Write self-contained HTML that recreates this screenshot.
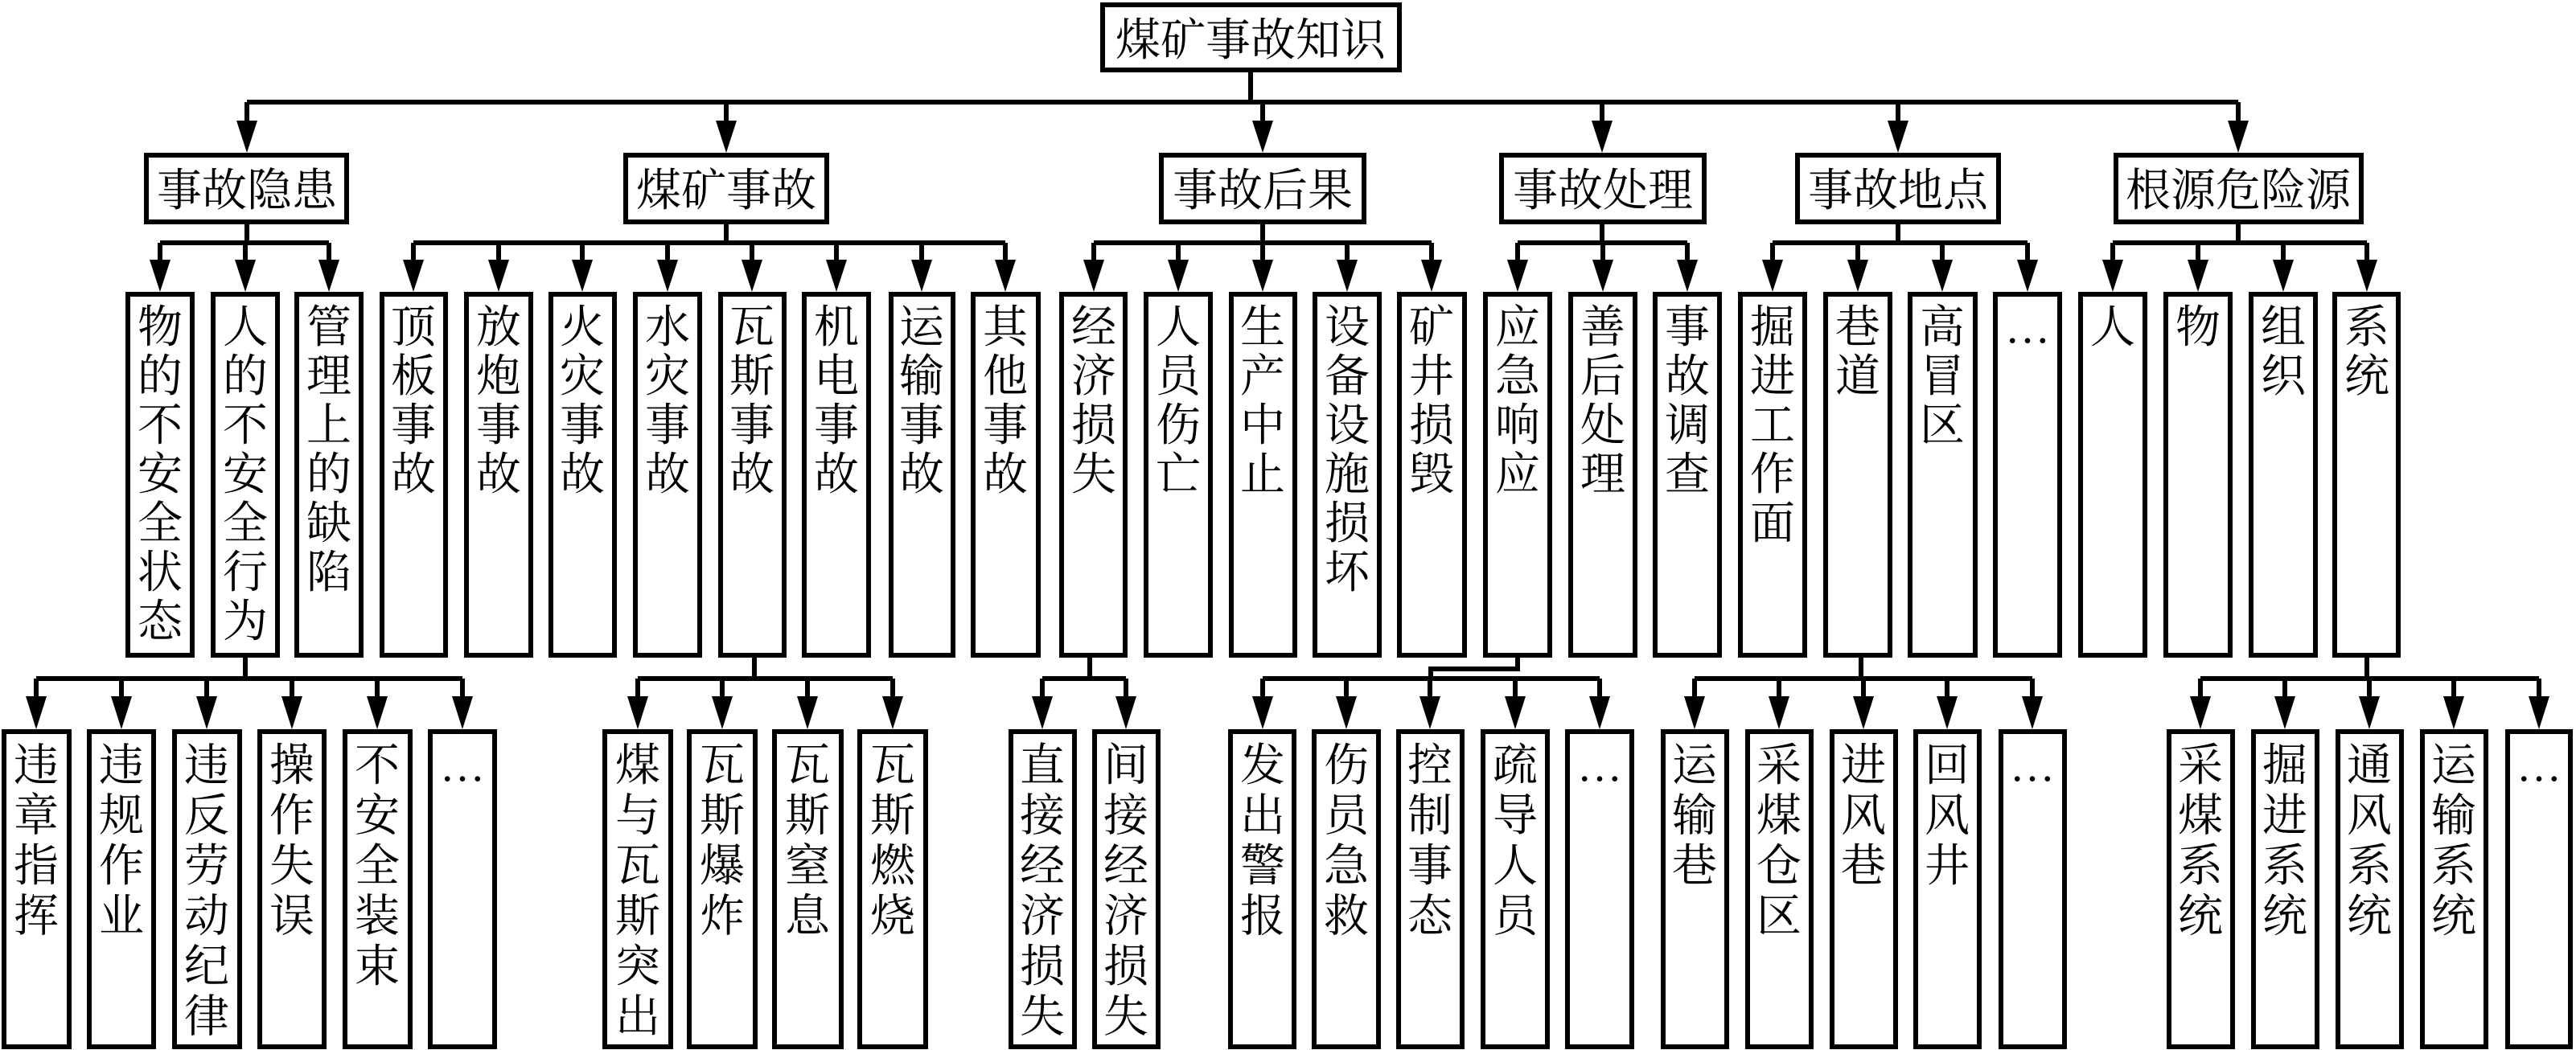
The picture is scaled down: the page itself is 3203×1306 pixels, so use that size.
<!DOCTYPE html>
<html><head><meta charset="utf-8"><style>
html,body{margin:0;padding:0;background:#fff}
svg{display:block}
text{font-family:"Liberation Serif","Noto Serif CJK SC",serif;font-size:56px;fill:#000;text-anchor:middle}
</style></head><body>
<svg width="3203" height="1306" viewBox="0 0 3203 1306" xmlns="http://www.w3.org/2000/svg">
<g fill="none" stroke="#000" stroke-width="6">
<!-- root -->
<rect x="1371" y="6" width="369" height="81"/>
<line x1="1555" y1="87" x2="1555" y2="127"/>
<line x1="307" y1="127" x2="2783" y2="127"/>
<line x1="307" y1="127" x2="307" y2="152"/><line x1="903" y1="127" x2="903" y2="152"/><line x1="1570" y1="127" x2="1570" y2="152"/><line x1="1992" y1="127" x2="1992" y2="152"/><line x1="2360" y1="127" x2="2360" y2="152"/><line x1="2783" y1="127" x2="2783" y2="152"/>
<!-- level1 boxes -->
<rect x="182" y="193" width="249" height="83"/>
<rect x="778" y="193" width="250" height="83"/>
<rect x="1444" y="193" width="252" height="83"/>
<rect x="1867" y="193" width="252" height="83"/>
<rect x="2235" y="193" width="250" height="83"/>
<rect x="2631" y="193" width="305" height="83"/>
<!-- level1 stems and branch lines -->
<line x1="307" y1="276" x2="307" y2="302"/><line x1="199" y1="302" x2="409" y2="302"/>
<line x1="903" y1="276" x2="903" y2="302"/><line x1="514" y1="302" x2="1250" y2="302"/>
<line x1="1570" y1="276" x2="1570" y2="302"/><line x1="1360" y1="302" x2="1780" y2="302"/>
<line x1="1992" y1="276" x2="1992" y2="302"/><line x1="1887" y1="302" x2="2098" y2="302"/>
<line x1="2360" y1="276" x2="2360" y2="302"/><line x1="2204" y1="302" x2="2521" y2="302"/>
<line x1="2783" y1="276" x2="2783" y2="302"/><line x1="2627" y1="302" x2="2943" y2="302"/>
<!-- level2 drops -->
<path d="M199 302V325M305 302V325M409 302V325M514 302V325M620 302V325M724 302V325M830 302V325M935 302V325M1040 302V325M1146 302V325M1250 302V325M1360 302V325M1465 302V325M1570 302V325M1675 302V325M1780 302V325M1887 302V325M1993 302V325M2098 302V325M2204 302V325M2310 302V325M2415 302V325M2521 302V325M2627 302V325M2733 302V325M2839 302V325M2943 302V325"/>
<!-- level2 boxes -->
<rect x="159" y="366" width="80" height="449"/><rect x="265" y="366" width="80" height="449"/><rect x="369" y="366" width="80" height="449"/>
<rect x="475" y="366" width="79" height="449"/><rect x="580" y="366" width="80" height="449"/><rect x="685" y="366" width="79" height="449"/><rect x="790" y="366" width="80" height="449"/><rect x="896" y="366" width="79" height="449"/><rect x="1000" y="366" width="80" height="449"/><rect x="1108" y="366" width="77" height="449"/><rect x="1210" y="366" width="81" height="449"/>
<rect x="1320" y="366" width="79" height="449"/><rect x="1425" y="366" width="80" height="449"/><rect x="1531" y="366" width="79" height="449"/><rect x="1635" y="366" width="80" height="449"/><rect x="1740" y="366" width="81" height="449"/>
<rect x="1847" y="366" width="80" height="449"/><rect x="1953" y="366" width="80" height="449"/><rect x="2058" y="366" width="80" height="449"/>
<rect x="2164" y="366" width="80" height="449"/><rect x="2270" y="366" width="80" height="449"/><rect x="2375" y="366" width="81" height="449"/><rect x="2481" y="366" width="80" height="449"/>
<rect x="2587" y="366" width="80" height="449"/><rect x="2693" y="366" width="80" height="449"/><rect x="2799" y="366" width="80" height="449"/><rect x="2903" y="366" width="79" height="449"/>
<!-- level3 connectors -->
<line x1="305" y1="815" x2="305" y2="844"/><line x1="45" y1="844" x2="575" y2="844"/>
<line x1="938" y1="815" x2="938" y2="844"/><line x1="793" y1="844" x2="1110" y2="844"/>
<line x1="1355" y1="815" x2="1355" y2="844"/><line x1="1296" y1="844" x2="1400" y2="844"/>
<path d="M1887 815V832H1779V844"/><line x1="1570" y1="844" x2="1989" y2="844"/>
<line x1="2314" y1="815" x2="2314" y2="844"/><line x1="2107" y1="844" x2="2527" y2="844"/>
<line x1="2943" y1="815" x2="2943" y2="844"/><line x1="2736" y1="844" x2="3157" y2="844"/>
<path d="M45 844V870M151 844V870M257 844V870M363 844V870M469 844V870M575 844V870M793 844V870M898 844V870M1004 844V870M1110 844V870M1296 844V870M1400 844V870M1570 844V870M1674 844V870M1778 844V870M1884 844V870M1989 844V870M2107 844V870M2212 844V870M2317 844V870M2421 844V870M2527 844V870M2736 844V870M2841 844V870M2946 844V870M3051 844V870M3157 844V870"/>
<!-- leaf boxes -->
<rect x="5" y="910" width="81" height="392"/><rect x="111" y="910" width="80" height="392"/><rect x="217" y="910" width="81" height="392"/><rect x="323" y="910" width="80" height="392"/><rect x="429" y="910" width="81" height="392"/><rect x="535" y="910" width="80" height="392"/>
<rect x="752" y="910" width="82" height="392"/><rect x="857" y="910" width="82" height="392"/><rect x="963" y="910" width="83" height="392"/><rect x="1069" y="910" width="82" height="392"/>
<rect x="1257" y="910" width="79" height="392"/><rect x="1361" y="910" width="79" height="392"/>
<rect x="1530" y="910" width="79" height="392"/><rect x="1634" y="910" width="80" height="392"/><rect x="1739" y="910" width="79" height="392"/><rect x="1844" y="910" width="80" height="392"/><rect x="1949" y="910" width="80" height="392"/>
<rect x="2068" y="910" width="79" height="392"/><rect x="2173" y="910" width="79" height="392"/><rect x="2278" y="910" width="79" height="392"/><rect x="2382" y="910" width="79" height="392"/><rect x="2488" y="910" width="79" height="392"/>
<rect x="2697" y="910" width="79" height="392"/><rect x="2802" y="910" width="79" height="392"/><rect x="2907" y="910" width="79" height="392"/><rect x="3012" y="910" width="79" height="392"/><rect x="3118" y="910" width="78" height="392"/>
</g>
<!-- arrowheads -->
<g fill="#000">
<path d="M294 150H320L307 190ZM890 150H916L903 190ZM1557 150H1583L1570 190ZM1979 150H2005L1992 190ZM2347 150H2373L2360 190ZM2770 150H2796L2783 190Z"/>
<path d="M186 323H212L199 363ZM292 323H318L305 363ZM396 323H422L409 363ZM501 323H527L514 363ZM607 323H633L620 363ZM711 323H737L724 363ZM817 323H843L830 363ZM922 323H948L935 363ZM1027 323H1053L1040 363ZM1133 323H1159L1146 363ZM1237 323H1263L1250 363ZM1347 323H1373L1360 363ZM1452 323H1478L1465 363ZM1557 323H1583L1570 363ZM1662 323H1688L1675 363ZM1767 323H1793L1780 363ZM1874 323H1900L1887 363ZM1980 323H2006L1993 363ZM2085 323H2111L2098 363ZM2191 323H2217L2204 363ZM2297 323H2323L2310 363ZM2402 323H2428L2415 363ZM2508 323H2534L2521 363ZM2614 323H2640L2627 363ZM2720 323H2746L2733 363ZM2826 323H2852L2839 363ZM2930 323H2956L2943 363Z"/>
<path d="M32 866H58L45 907ZM138 866H164L151 907ZM244 866H270L257 907ZM350 866H376L363 907ZM456 866H482L469 907ZM562 866H588L575 907ZM780 866H806L793 907ZM885 866H911L898 907ZM991 866H1017L1004 907ZM1097 866H1123L1110 907ZM1283 866H1309L1296 907ZM1387 866H1413L1400 907ZM1557 866H1583L1570 907ZM1661 866H1687L1674 907ZM1765 866H1791L1778 907ZM1871 866H1897L1884 907ZM1976 866H2002L1989 907ZM2094 866H2120L2107 907ZM2199 866H2225L2212 907ZM2304 866H2330L2317 907ZM2408 866H2434L2421 907ZM2514 866H2540L2527 907ZM2723 866H2749L2736 907ZM2828 866H2854L2841 907ZM2933 866H2959L2946 907ZM3038 866H3064L3051 907ZM3144 866H3170L3157 907Z"/>
</g>
<!-- text: root & level1 -->
<text x="1555" y="69">煤矿事故知识</text>
<text x="307" y="256">事故隐患</text>
<text x="903" y="256">煤矿事故</text>
<text x="1570" y="256">事故后果</text>
<text x="1993" y="256">事故处理</text>
<text x="2360" y="256">事故地点</text>
<text x="2783" y="256">根源危险源</text>
<!-- level2 text -->
<text y="426"><tspan x="199">物</tspan><tspan x="199" dy="61">的</tspan><tspan x="199" dy="61">不</tspan><tspan x="199" dy="61">安</tspan><tspan x="199" dy="61">全</tspan><tspan x="199" dy="61">状</tspan><tspan x="199" dy="61">态</tspan></text>
<text y="426"><tspan x="305">人</tspan><tspan x="305" dy="61">的</tspan><tspan x="305" dy="61">不</tspan><tspan x="305" dy="61">安</tspan><tspan x="305" dy="61">全</tspan><tspan x="305" dy="61">行</tspan><tspan x="305" dy="61">为</tspan></text>
<text y="426"><tspan x="409">管</tspan><tspan x="409" dy="61">理</tspan><tspan x="409" dy="61">上</tspan><tspan x="409" dy="61">的</tspan><tspan x="409" dy="61">缺</tspan><tspan x="409" dy="61">陷</tspan></text>
<text y="426"><tspan x="514">顶</tspan><tspan x="514" dy="61">板</tspan><tspan x="514" dy="61">事</tspan><tspan x="514" dy="61">故</tspan></text>
<text y="426"><tspan x="620">放</tspan><tspan x="620" dy="61">炮</tspan><tspan x="620" dy="61">事</tspan><tspan x="620" dy="61">故</tspan></text>
<text y="426"><tspan x="724">火</tspan><tspan x="724" dy="61">灾</tspan><tspan x="724" dy="61">事</tspan><tspan x="724" dy="61">故</tspan></text>
<text y="426"><tspan x="830">水</tspan><tspan x="830" dy="61">灾</tspan><tspan x="830" dy="61">事</tspan><tspan x="830" dy="61">故</tspan></text>
<text y="426"><tspan x="935">瓦</tspan><tspan x="935" dy="61">斯</tspan><tspan x="935" dy="61">事</tspan><tspan x="935" dy="61">故</tspan></text>
<text y="426"><tspan x="1040">机</tspan><tspan x="1040" dy="61">电</tspan><tspan x="1040" dy="61">事</tspan><tspan x="1040" dy="61">故</tspan></text>
<text y="426"><tspan x="1146">运</tspan><tspan x="1146" dy="61">输</tspan><tspan x="1146" dy="61">事</tspan><tspan x="1146" dy="61">故</tspan></text>
<text y="426"><tspan x="1250">其</tspan><tspan x="1250" dy="61">他</tspan><tspan x="1250" dy="61">事</tspan><tspan x="1250" dy="61">故</tspan></text>
<text y="426"><tspan x="1360">经</tspan><tspan x="1360" dy="61">济</tspan><tspan x="1360" dy="61">损</tspan><tspan x="1360" dy="61">失</tspan></text>
<text y="426"><tspan x="1465">人</tspan><tspan x="1465" dy="61">员</tspan><tspan x="1465" dy="61">伤</tspan><tspan x="1465" dy="61">亡</tspan></text>
<text y="426"><tspan x="1570">生</tspan><tspan x="1570" dy="61">产</tspan><tspan x="1570" dy="61">中</tspan><tspan x="1570" dy="61">止</tspan></text>
<text y="426"><tspan x="1675">设</tspan><tspan x="1675" dy="61">备</tspan><tspan x="1675" dy="61">设</tspan><tspan x="1675" dy="61">施</tspan><tspan x="1675" dy="61">损</tspan><tspan x="1675" dy="61">坏</tspan></text>
<text y="426"><tspan x="1780">矿</tspan><tspan x="1780" dy="61">井</tspan><tspan x="1780" dy="61">损</tspan><tspan x="1780" dy="61">毁</tspan></text>
<text y="426"><tspan x="1887">应</tspan><tspan x="1887" dy="61">急</tspan><tspan x="1887" dy="61">响</tspan><tspan x="1887" dy="61">应</tspan></text>
<text y="426"><tspan x="1993">善</tspan><tspan x="1993" dy="61">后</tspan><tspan x="1993" dy="61">处</tspan><tspan x="1993" dy="61">理</tspan></text>
<text y="426"><tspan x="2098">事</tspan><tspan x="2098" dy="61">故</tspan><tspan x="2098" dy="61">调</tspan><tspan x="2098" dy="61">查</tspan></text>
<text y="426"><tspan x="2204">掘</tspan><tspan x="2204" dy="61">进</tspan><tspan x="2204" dy="61">工</tspan><tspan x="2204" dy="61">作</tspan><tspan x="2204" dy="61">面</tspan></text>
<text y="426"><tspan x="2310">巷</tspan><tspan x="2310" dy="61">道</tspan></text>
<text y="426"><tspan x="2415">高</tspan><tspan x="2415" dy="61">冒</tspan><tspan x="2415" dy="61">区</tspan></text>
<text x="2521" y="426">…</text>
<text x="2627" y="426">人</text>
<text x="2733" y="426">物</text>
<text y="426"><tspan x="2839">组</tspan><tspan x="2839" dy="61">织</tspan></text>
<text y="426"><tspan x="2943">系</tspan><tspan x="2943" dy="61">统</tspan></text>
<!-- leaf text -->
<text y="971"><tspan x="45">违</tspan><tspan x="45" dy="62.5">章</tspan><tspan x="45" dy="62.5">指</tspan><tspan x="45" dy="62.5">挥</tspan></text>
<text y="971"><tspan x="151">违</tspan><tspan x="151" dy="62.5">规</tspan><tspan x="151" dy="62.5">作</tspan><tspan x="151" dy="62.5">业</tspan></text>
<text y="971"><tspan x="257">违</tspan><tspan x="257" dy="62.5">反</tspan><tspan x="257" dy="62.5">劳</tspan><tspan x="257" dy="62.5">动</tspan><tspan x="257" dy="62.5">纪</tspan><tspan x="257" dy="62.5">律</tspan></text>
<text y="971"><tspan x="363">操</tspan><tspan x="363" dy="62.5">作</tspan><tspan x="363" dy="62.5">失</tspan><tspan x="363" dy="62.5">误</tspan></text>
<text y="971"><tspan x="469">不</tspan><tspan x="469" dy="62.5">安</tspan><tspan x="469" dy="62.5">全</tspan><tspan x="469" dy="62.5">装</tspan><tspan x="469" dy="62.5">束</tspan></text>
<text x="575" y="971">…</text>
<text y="971"><tspan x="793">煤</tspan><tspan x="793" dy="62.5">与</tspan><tspan x="793" dy="62.5">瓦</tspan><tspan x="793" dy="62.5">斯</tspan><tspan x="793" dy="62.5">突</tspan><tspan x="793" dy="62.5">出</tspan></text>
<text y="971"><tspan x="898">瓦</tspan><tspan x="898" dy="62.5">斯</tspan><tspan x="898" dy="62.5">爆</tspan><tspan x="898" dy="62.5">炸</tspan></text>
<text y="971"><tspan x="1004">瓦</tspan><tspan x="1004" dy="62.5">斯</tspan><tspan x="1004" dy="62.5">窒</tspan><tspan x="1004" dy="62.5">息</tspan></text>
<text y="971"><tspan x="1110">瓦</tspan><tspan x="1110" dy="62.5">斯</tspan><tspan x="1110" dy="62.5">燃</tspan><tspan x="1110" dy="62.5">烧</tspan></text>
<text y="971"><tspan x="1296">直</tspan><tspan x="1296" dy="62.5">接</tspan><tspan x="1296" dy="62.5">经</tspan><tspan x="1296" dy="62.5">济</tspan><tspan x="1296" dy="62.5">损</tspan><tspan x="1296" dy="62.5">失</tspan></text>
<text y="971"><tspan x="1400">间</tspan><tspan x="1400" dy="62.5">接</tspan><tspan x="1400" dy="62.5">经</tspan><tspan x="1400" dy="62.5">济</tspan><tspan x="1400" dy="62.5">损</tspan><tspan x="1400" dy="62.5">失</tspan></text>
<text y="971"><tspan x="1570">发</tspan><tspan x="1570" dy="62.5">出</tspan><tspan x="1570" dy="62.5">警</tspan><tspan x="1570" dy="62.5">报</tspan></text>
<text y="971"><tspan x="1674">伤</tspan><tspan x="1674" dy="62.5">员</tspan><tspan x="1674" dy="62.5">急</tspan><tspan x="1674" dy="62.5">救</tspan></text>
<text y="971"><tspan x="1778">控</tspan><tspan x="1778" dy="62.5">制</tspan><tspan x="1778" dy="62.5">事</tspan><tspan x="1778" dy="62.5">态</tspan></text>
<text y="971"><tspan x="1884">疏</tspan><tspan x="1884" dy="62.5">导</tspan><tspan x="1884" dy="62.5">人</tspan><tspan x="1884" dy="62.5">员</tspan></text>
<text x="1989" y="971">…</text>
<text y="971"><tspan x="2107">运</tspan><tspan x="2107" dy="62.5">输</tspan><tspan x="2107" dy="62.5">巷</tspan></text>
<text y="971"><tspan x="2212">采</tspan><tspan x="2212" dy="62.5">煤</tspan><tspan x="2212" dy="62.5">仓</tspan><tspan x="2212" dy="62.5">区</tspan></text>
<text y="971"><tspan x="2317">进</tspan><tspan x="2317" dy="62.5">风</tspan><tspan x="2317" dy="62.5">巷</tspan></text>
<text y="971"><tspan x="2421">回</tspan><tspan x="2421" dy="62.5">风</tspan><tspan x="2421" dy="62.5">井</tspan></text>
<text x="2527" y="971">…</text>
<text y="971"><tspan x="2736">采</tspan><tspan x="2736" dy="62.5">煤</tspan><tspan x="2736" dy="62.5">系</tspan><tspan x="2736" dy="62.5">统</tspan></text>
<text y="971"><tspan x="2841">掘</tspan><tspan x="2841" dy="62.5">进</tspan><tspan x="2841" dy="62.5">系</tspan><tspan x="2841" dy="62.5">统</tspan></text>
<text y="971"><tspan x="2946">通</tspan><tspan x="2946" dy="62.5">风</tspan><tspan x="2946" dy="62.5">系</tspan><tspan x="2946" dy="62.5">统</tspan></text>
<text y="971"><tspan x="3051">运</tspan><tspan x="3051" dy="62.5">输</tspan><tspan x="3051" dy="62.5">系</tspan><tspan x="3051" dy="62.5">统</tspan></text>
<text x="3157" y="971">…</text>
</svg>
</body></html>
